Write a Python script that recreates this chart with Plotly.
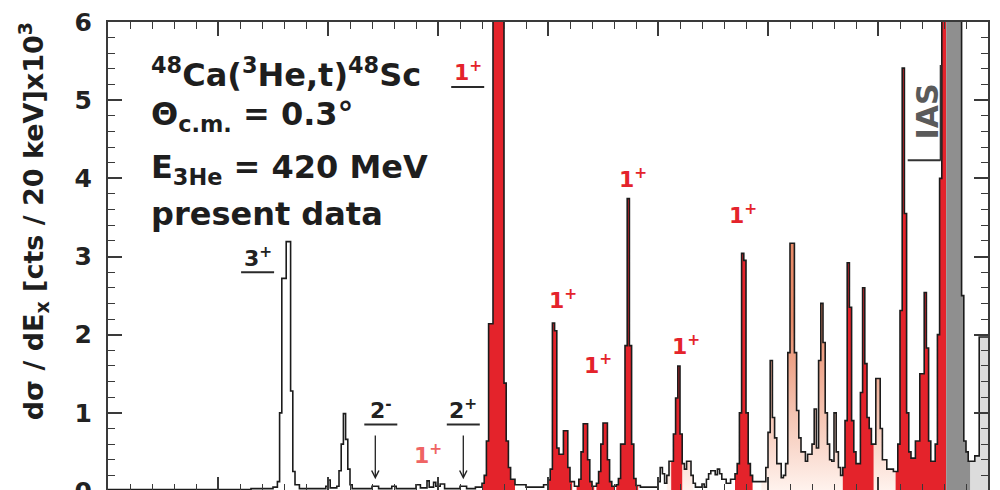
import plotly.graph_objects as go

# ---------------- data ----------------
# spectrum as steps: each value holds from its start energy to the next start (MeV, counts x10^3 per 20 keV)
step_start_mev = [
    -1.00, 0.30, 0.50, 0.54, 0.56, 0.58, 0.62, 0.66, 0.68, 0.70, 0.74,
    0.98, 1.00, 1.02, 1.08, 1.10, 1.12, 1.14, 1.16, 1.18, 1.20, 1.22,
    1.40, 1.46, 1.58, 1.62, 1.80, 1.84, 1.90, 1.92, 1.96, 1.98, 2.02, 2.06,
    2.20, 2.26, 2.34, 2.40, 2.42, 2.44, 2.46, 2.50, 2.60, 2.62, 2.64, 2.66, 2.70,
    2.80, 2.96, 3.00, 3.02, 3.04, 3.06, 3.08, 3.10, 3.14, 3.18, 3.20, 3.24,
    3.28, 3.30, 3.32, 3.36, 3.38, 3.40, 3.44, 3.46, 3.48, 3.50, 3.54, 3.56, 3.58,
    3.62, 3.64, 3.66, 3.70, 3.72, 3.74, 3.76, 3.78, 3.80, 3.84,
    4.00, 4.02, 4.04, 4.06, 4.08, 4.10, 4.14, 4.16, 4.18, 4.20, 4.22, 4.24, 4.26,
    4.30, 4.32, 4.34, 4.40, 4.42, 4.44, 4.46, 4.48, 4.52, 4.54, 4.56, 4.58, 4.62,
    4.66, 4.70, 4.72, 4.74, 4.76, 4.78, 4.80, 4.82, 4.84, 4.86,
    4.96, 4.98, 5.00, 5.02, 5.04, 5.06, 5.08, 5.12, 5.14, 5.16, 5.18, 5.20,
    5.24, 5.26, 5.28, 5.30, 5.34, 5.36, 5.40, 5.42, 5.44, 5.46, 5.48, 5.50,
    5.52, 5.54, 5.56, 5.58, 5.60, 5.62, 5.64, 5.66, 5.68, 5.70, 5.72, 5.74,
    5.76, 5.78, 5.80, 5.84, 5.86, 5.88, 5.90, 5.92, 5.94, 5.98, 6.02, 6.04,
    6.08, 6.14, 6.18, 6.20, 6.22, 6.24, 6.26, 6.28, 6.30, 6.34, 6.38, 6.42,
    6.44, 6.46, 6.48, 6.52, 6.54, 6.56, 6.58, 6.62, 6.76, 6.78, 6.80, 6.82,
    6.88, 6.92,
]
step_counts = [
    0.02, 0.03, 0.05, 0.12, 1.00, 2.72, 3.19, 1.28, 0.25, 0.08, 0.03,
    0.06, 0.14, 0.04, 0.06, 0.26, 0.60, 0.99, 0.66, 0.28, 0.08, 0.03,
    0.06, 0.03, 0.06, 0.03, 0.08, 0.04, 0.13, 0.05, 0.11, 0.06, 0.09, 0.03,
    0.06, 0.03, 0.05, 0.10, 0.20, 0.64, 2.14, 9.50, 1.38, 0.64, 0.30, 0.15, 0.08,
    0.05, 0.08, 0.14, 0.28, 2.15, 2.05, 0.55, 0.47, 0.77, 0.30, 0.12, 0.06,
    0.15, 0.50, 0.86, 0.40, 0.12, 0.06, 0.10, 0.25, 0.60, 0.87, 0.40, 0.12, 0.06,
    0.08, 0.16, 0.60, 1.86, 3.74, 1.86, 0.60, 0.16, 0.07, 0.05,
    0.12, 0.30, 0.22, 0.10, 0.20, 0.38, 0.73, 1.19, 1.60, 0.73, 0.35, 0.28, 0.38,
    0.20, 0.10, 0.05, 0.09, 0.05, 0.15, 0.22, 0.26, 0.21, 0.28, 0.22, 0.15, 0.10,
    0.15, 0.22, 0.35, 1.00, 3.04, 2.95, 1.00, 0.35, 0.20, 0.12,
    0.12, 0.30, 0.75, 1.67, 0.94, 0.68, 0.35, 0.17, 0.20, 0.35, 1.77, 3.17,
    1.77, 1.03, 0.68, 0.50, 0.38, 0.47, 0.60, 1.05, 0.55, 1.67, 2.40, 1.90,
    1.00, 0.60, 0.40, 0.38, 1.00, 0.50, 0.30, 0.20, 0.30, 0.90, 2.92, 2.35,
    0.90, 0.50, 0.35, 1.26, 2.60, 1.63, 0.94, 0.80, 0.60, 1.44, 0.80, 0.40,
    0.28, 0.25, 0.60, 2.31, 5.41, 3.55, 1.00, 0.50, 0.42, 0.64, 1.50, 2.54,
    1.83, 0.64, 0.38, 0.60, 2.00, 4.00, 9.00, 11.0, 2.50, 0.64, 0.50, 0.38,
    0.45, 1.97,
]
E_MAX = 7.0

# energy ranges of the shaded components
red_ranges_mev = [(2.40, 2.70), (3.00, 3.22), (3.26, 3.42), (3.44, 3.60), (3.62, 3.82),
                  (4.12, 4.22), (4.70, 4.86), (5.68, 5.96), (6.16, 6.62)]
peach_ranges_mev = [(4.08, 4.32), (4.94, 5.68), (5.96, 6.16)]
grey_ranges_mev = [(6.62, 6.84)]
lightgrey_ranges_mev = [(6.84, 7.00)]

# labels: (text, E [MeV], counts, color, underlined)
spin_labels = [
    ("1<sup>+</sup>", 2.27, 5.37, "#e4232b", True),
    ("1<sup>+</sup>", 3.77, 4.01, "#e4232b", False),
    ("1<sup>+</sup>", 3.14, 2.46, "#e4232b", False),
    ("1<sup>+</sup>", 3.45, 1.62, "#e4232b", False),
    ("1<sup>+</sup>", 4.25, 1.87, "#e4232b", False),
    ("1<sup>+</sup>", 4.77, 3.54, "#e4232b", False),
    ("1<sup>+</sup>", 1.91, 0.47, "#ef6464", False),
    ("3<sup>+</sup>", 0.36, 3.00, "#222222", True),
    ("2<sup>-</sup>", 1.48, 1.05, "#222222", True),
    ("2<sup>+</sup>", 2.23, 1.05, "#222222", True),
]
arrow_states_mev = [1.43, 2.23]

# ---------------- helpers ----------------
def value_at(e):
    v = step_counts[0]
    for s, c in zip(step_start_mev, step_counts):
        if s <= e + 1e-9:
            v = c
        else:
            break
    return v


def segment(a, b):
    xs, ys = [a, a], [0, value_at(a)]
    for s, c in zip(step_start_mev, step_counts):
        if a + 1e-9 < s < b - 1e-9:
            xs.append(s)
            ys.append(c)
    xs.append(b)
    ys.append(0)
    return xs, ys


fig = go.Figure()

for a, b in peach_ranges_mev:
    xs, ys = segment(a, b)
    fig.add_trace(go.Scatter(
        x=xs, y=ys, mode="lines", line=dict(width=0, shape="hv"), fill="tozeroy",
        fillgradient=dict(type="vertical", start=0, stop=2.2,
                          colorscale=[[0, "#fff3ee"], [1, "#e88a68"]]),
        hoverinfo="skip", showlegend=False))

for a, b in red_ranges_mev:
    xs, ys = segment(a, b)
    fig.add_trace(go.Scatter(
        x=xs, y=ys, mode="lines", line=dict(width=0, shape="hv"), fill="tozeroy",
        fillcolor="#e4232b", hoverinfo="skip", showlegend=False))

for a, b in grey_ranges_mev:
    xs, ys = segment(a, b)
    fig.add_trace(go.Scatter(
        x=xs, y=ys, mode="lines", line=dict(width=0, shape="hv"), fill="tozeroy",
        fillcolor="#8f8f8f", hoverinfo="skip", showlegend=False))

for a, b in lightgrey_ranges_mev:
    xs, ys = segment(a, b)
    fig.add_trace(go.Scatter(
        x=xs, y=ys, mode="lines", line=dict(width=0, shape="hv"), fill="tozeroy",
        fillcolor="#dcdcdc", hoverinfo="skip", showlegend=False))

# outline histogram
fig.add_trace(go.Scatter(
    x=step_start_mev + [E_MAX], y=step_counts + [step_counts[-1]],
    mode="lines", line=dict(color="#1c1c1c", width=1.6, shape="hv"),
    hoverinfo="skip", showlegend=False))

FONT = "DejaVu Sans"
annotations = []
for text, e, c, col, underline in spin_labels:
    annotations.append(dict(x=e, y=c, xref="x", yref="y", text=text, showarrow=False,
                            font=dict(family=FONT, size=22, color=col, weight="bold"),
                            xanchor="center", yanchor="middle"))

shapes = []
for text, e, c, col, underline in spin_labels:
    if underline:
        shapes.append(dict(type="line", xref="x", yref="y", x0=e - 0.15, x1=e + 0.15,
                           y0=c - 0.20, y1=c - 0.20, line=dict(color="#2a2a2a", width=2)))

for e in arrow_states_mev:
    annotations.append(dict(x=e, y=0.15, xref="x", yref="y", ax=e, ay=0.73, axref="x", ayref="y",
                            text="", showarrow=True, arrowhead=5, arrowsize=1.1, arrowwidth=1.3,
                            arrowcolor="#222222"))

# IAS label and bracket
annotations.append(dict(x=6.45, y=4.85, xref="x", yref="y", text="IAS", textangle=-90,
                        showarrow=False, font=dict(family=FONT, size=30, color="#5a5a5a", weight="bold")))
shapes.append(dict(type="line", xref="x", yref="y", x0=6.57, x1=6.57, y0=4.23, y1=5.45,
                   line=dict(color="#333333", width=2)))
shapes.append(dict(type="line", xref="x", yref="y", x0=6.27, x1=6.57, y0=4.23, y1=4.23,
                   line=dict(color="#333333", width=2)))

# info text block
info_lines = [
    ("<sup>48</sup>Ca(<sup>3</sup>He,t)<sup>48</sup>Sc", 5.35),
    ("\u0398<sub>c.m.</sub> = 0.3\u00b0", 4.80),
    ("E<sub>3He</sub> = 420 MeV", 4.12),
    ("present data", 3.55),
]
for text, yv in info_lines:
    annotations.append(dict(x=-0.63, y=yv, xref="x", yref="y", text=text, showarrow=False,
                            xanchor="left", yanchor="middle",
                            font=dict(family=FONT, size=32, color="#1e1e1e", weight="bold")))

# y-axis title
annotations.append(dict(x=-0.0852, y=0.575, xref="paper", yref="paper",
                        text="d\u03c3 / dE<sub>x</sub> [cts / 20 keV]x10<sup>3</sup>",
                        textangle=-90, showarrow=False, xanchor="center", yanchor="middle",
                        font=dict(family=FONT, size=27, color="#1e1e1e", weight="bold")))

axis_common = dict(showline=True, mirror="ticks", linecolor="#3a3a3a", linewidth=2,
                   ticks="inside", tickcolor="#3a3a3a", tickwidth=1.5, ticklen=14,
                   showgrid=False, zeroline=False)

# the page body adds an 8 px offset; margins compensate so the frame sits where the reference has it
fig.update_layout(
    width=1000, height=490,
    margin=dict(l=100, r=20, t=14, b=7, autoexpand=False),
    paper_bgcolor="white", plot_bgcolor="white",
    xaxis=dict(range=[-1, 7], dtick=1, tick0=0, showticklabels=False,
               minor=dict(ticks="inside", dtick=0.2, ticklen=7, tickcolor="#3a3a3a", tickwidth=1),
               **axis_common),
    yaxis=dict(range=[0, 6], dtick=1, tick0=0, ticklabelstandoff=9, ticklabeloverflow="allow",
               tickfont=dict(family=FONT, size=25, color="#222222", weight="bold"),
               minor=dict(ticks="inside", dtick=0.2, ticklen=7, tickcolor="#3a3a3a", tickwidth=1),
               **axis_common),
    annotations=annotations, shapes=shapes,
)

fig.write_html("out.html")
